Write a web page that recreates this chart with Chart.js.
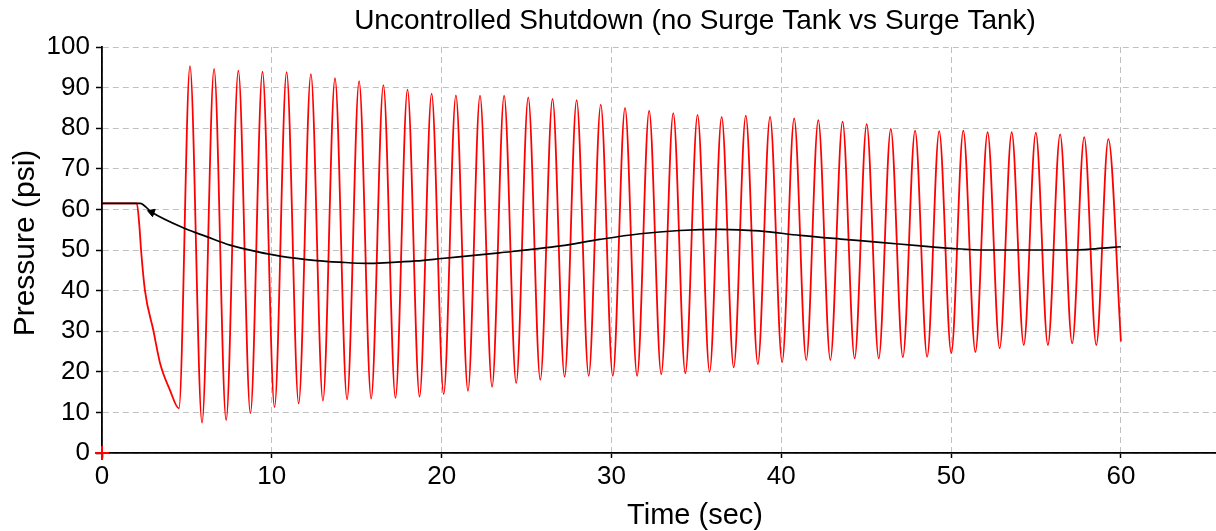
<!DOCTYPE html>
<html>
<head>
<meta charset="utf-8">
<script src="https://cdn.jsdelivr.net/npm/chart.js@4"></script>
<style>
html,body{margin:0;padding:0;background:#fff;}
#c{display:block;}
</style>
</head>
<body>
<canvas id="c" width="1216" height="531"></canvas>
<script>
const chartTitle = 'Uncontrolled Shutdown (no Surge Tank vs Surge Tank)';
const xTitle = 'Time (sec)';
const yTitle = 'Pressure (psi)';
const xTicks = [0, 10, 20, 30, 40, 50, 60];
const yTicks = [0, 10, 20, 30, 40, 50, 60, 70, 80, 90, 100];

// Red series: no surge tank (time s, pressure psi)
const redT = [0, 2.05, 2.2, 2.3, 2.53, 3.02, 3.42, 4.0, 4.53,
  5.18, 5.89, 6.60, 7.31, 8.03, 8.74, 9.45, 10.16, 10.87, 11.58, 12.30, 13.01,
  13.72, 14.43, 15.14, 15.85, 16.57, 17.28, 17.99, 18.70, 19.41, 20.12, 20.84, 21.55,
  22.26, 22.97, 23.68, 24.39, 25.10, 25.81, 26.53, 27.24, 27.95, 28.66, 29.37, 30.08,
  30.80, 31.51, 32.22, 32.93, 33.64, 34.35, 35.07, 35.78, 36.49, 37.20, 37.91, 38.62,
  39.34, 40.05, 40.76, 41.47, 42.18, 42.89, 43.61, 44.32, 45.03, 45.74, 46.45, 47.16,
  47.88, 48.59, 49.30, 50.01, 50.72, 51.43, 52.15, 52.86, 53.57, 54.28, 54.99, 55.70,
  56.42, 57.13, 57.84, 58.55, 59.26, 60.0];
const redP = [61.5, 61.5, 56, 50, 40, 30.3, 22.1, 15.5, 11,
  95.3, 7.5, 94.6, 8.1, 94.2, 9.8, 93.9, 11.3, 93.8, 12.2, 93.3, 12.9,
  92.3, 13.2, 91.6, 13.4, 90.6, 13.6, 89.5, 13.9, 88.5, 14.5, 88.1, 15.3,
  88.0, 16.3, 88.0, 17.2, 87.6, 18.0, 87.2, 18.8, 86.9, 19.0, 85.8, 19.0,
  85.0, 19.0, 84.3, 19.4, 83.7, 19.6, 83.3, 20.0, 82.8, 21.1, 83.1, 21.9,
  82.8, 22.4, 82.4, 22.9, 82.0, 22.9, 81.6, 23.3, 81.0, 23.3, 79.8, 23.6,
  79.4, 23.7, 79.3, 24.6, 79.4, 24.9, 79.0, 25.8, 79.0, 26.6, 78.9, 26.6,
  78.5, 27.0, 77.8, 26.6, 77.3, 27.5];

// Black series: with surge tank
const blackT = [0, 2.24, 2.93, 4.89, 6.16, 7.54, 9.11, 10.48, 12.64, 14.01, 15.59, 16.86,
  18.5, 20, 23.4, 27, 29.3, 31.7, 34, 36.4, 38.7, 41.1, 43.5, 45.8, 48.2, 50, 52, 57, 58.5, 60];
const blackP = [61.5, 61.5, 59.3, 55.3, 53.3, 51.2, 49.6, 48.5, 47.4, 47.0, 46.7, 46.9,
  47.3, 47.9, 49.3, 51.0, 52.6, 54.0, 54.8, 55.1, 54.7, 53.6, 52.7, 51.9, 51.0, 50.4, 50.0, 50.0, 50.3, 50.8];

// Markers
const crossMarker = [[0, 0]];
const arrowMarker = [[2.93, 59.3]];

const pts = (t, p) => t.map((v, i) => ({x: v, y: p[i]}));
const FONT = "'Liberation Sans', Arial, sans-serif";

const textPlugin = {
  id: 'texts',
  afterDraw(chart) {
    const ctx = chart.ctx;
    ctx.save();
    ctx.fillStyle = '#000';
    ctx.textAlign = 'center';
    ctx.textBaseline = 'alphabetic';
    ctx.font = '28px ' + FONT;
    ctx.fillText(chartTitle, 695, 29);
    ctx.font = '29px ' + FONT;
    ctx.fillText(xTitle, 695, 524);
    ctx.font = '30px ' + FONT;
    ctx.translate(34, 243);
    ctx.rotate(-Math.PI / 2);
    ctx.fillText(yTitle, 0, 0);
    ctx.restore();
  }
};

new Chart(document.getElementById('c'), {
  type: 'line',
  data: {
    datasets: [
      {
        label: 'Surge Tank',
        data: pts(blackT, blackP),
        borderColor: '#000',
        borderWidth: 1.7,
        pointRadius: 0,
        cubicInterpolationMode: 'monotone',
        fill: false
      },
      {
        label: 'arrow',
        data: arrowMarker.map(a => ({x: a[0], y: a[1]})),
        showLine: false,
        pointStyle: 'triangle',
        rotation: -70,
        pointRadius: 4.5,
        pointBackgroundColor: '#000',
        pointBorderColor: '#000',
        pointBorderWidth: 1
      },
      {
        label: 'origin',
        data: crossMarker.map(a => ({x: a[0], y: a[1]})),
        showLine: false,
        pointStyle: 'cross',
        pointRadius: 7,
        pointBorderColor: '#ff0000',
        pointBorderWidth: 2,
        clip: false
      },
      {
        label: 'No Surge Tank',
        data: pts(redT, redP),
        borderColor: '#ff0000',
        borderWidth: 1.8,
        pointRadius: 0,
        cubicInterpolationMode: 'monotone',
        fill: false
      }
    ]
  },
  options: {
    responsive: false,
    animation: false,
    devicePixelRatio: 1,
    layout: {autoPadding: false, padding: {top: 47, right: 0, left: 0, bottom: 0}},
    plugins: {
      legend: {display: false},
      title: {display: false},
      tooltip: {enabled: false}
    },
    scales: {
      x: {
        type: 'linear',
        min: 0,
        max: 65.6,
        afterFit: s => { s.height = 78; s.paddingLeft = 0; s.paddingRight = 0; },
        afterBuildTicks: s => { s.ticks = xTicks.map(v => ({value: v})); },
        ticks: {
          stepSize: 10,
          includeBounds: false,
          color: '#000',
          font: {family: FONT, size: 26},
          padding: 3,
          maxRotation: 0
        },
        grid: {
          color: '#c0c0c0',
          lineWidth: 1,
          drawTicks: true,
          tickLength: 5,
          tickColor: '#000',
          tickWidth: 1.5
        },
        border: {display: true, color: '#000', width: 1.8, dash: [6, 4]}
      },
      y: {
        min: 0,
        max: 100,
        afterFit: s => { s.width = 102; s.paddingTop = 0; s.paddingBottom = 0; },
        afterBuildTicks: s => { s.ticks = yTicks.map(v => ({value: v})); },
        ticks: {
          stepSize: 10,
          color: '#000',
          font: {family: FONT, size: 26},
          padding: 6
        },
        grid: {
          color: '#c0c0c0',
          lineWidth: 1,
          drawTicks: true,
          tickLength: 6,
          tickColor: '#000',
          tickWidth: 1.5
        },
        border: {display: true, color: '#000', width: 1.8, dash: [6, 4]}
      }
    }
  },
  plugins: [textPlugin]
});
</script>
</body>
</html>
